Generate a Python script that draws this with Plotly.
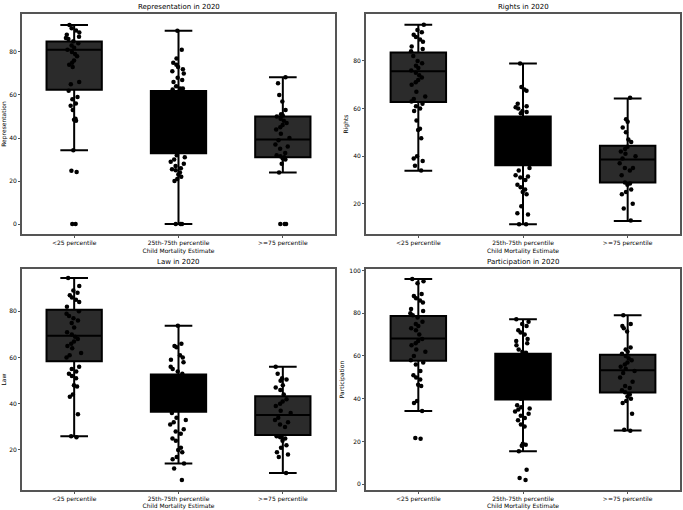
import plotly.graph_objects as go

categories = ["<25 percentile", "25th-75th percentile", ">=75 percentile"]
panel_titles = ["Representation in 2020", "Rights in 2020", "Law in 2020", "Participation in 2020"]
y_titles = ["Representation", "Rights", "Law", "Participation"]
x_title = "Child Mortality Estimate"

# Box statistics per panel: [q1, median, q3, lower whisker, upper whisker] per category
rep_stats = [[62.4, 81.0, 84.9, 34.3, 92.5], [32.9, 45.0, 61.8, 0.0, 89.8], [31.0, 39.3, 50.0, 24.0, 68.2]]
rig_stats = [[62.7, 75.6, 83.5, 33.9, 95.2], [36.2, 46.0, 56.7, 11.4, 78.9], [29.0, 38.6, 44.4, 12.8, 64.2]]
law_stats = [[58.4, 69.4, 80.7, 26.0, 94.4], [36.5, 44.0, 52.7, 14.2, 73.8], [26.5, 35.1, 43.3, 10.0, 56.0]]
par_stats = [[57.8, 68.2, 78.7, 34.3, 96.0], [39.6, 50.0, 61.0, 15.5, 77.2], [42.9, 53.3, 60.6, 25.2, 79.0]]

# Strip points per panel and category
rep_low = [92.5, 91, 90, 89, 88, 87, 86.5, 86, 85, 84, 83, 82, 81, 80, 79, 78, 76, 75, 74, 73, 66, 65,
           62, 59, 58, 56, 55, 53, 49, 48.5, 48, 34.3, 24.8, 24.2, 0, 0]
rep_mid = [89.8, 81, 77, 75, 74, 73, 72, 71, 70, 68, 67, 66, 64, 63, 63, 62.5, 62, 60, 57, 55, 52, 50,
           48, 46, 44, 42, 40, 38, 36, 34, 32, 31, 30, 29, 28, 27, 26, 25.5, 25, 24, 23, 22, 21, 20, 0, 0, 0]
rep_high = [68.2, 65.5, 60, 57, 53, 51, 50.5, 50, 49, 48, 47, 46, 45, 44, 42, 40, 39, 37, 36, 35, 33,
            32, 31.5, 31, 30.5, 30, 28, 24, 0, 0, 0]

rig_low = [95.2, 93, 92, 91, 90, 89, 88, 86, 85, 84, 82, 80, 79, 78, 77, 76, 75, 74, 73, 72, 71, 70,
           67, 65, 64, 63, 62, 61, 60, 59, 55, 51.5, 51, 47.5, 40, 39, 38, 36, 34]
rig_mid = [78.9, 69, 68, 67.5, 62, 61, 60.5, 60, 59, 58.5, 58, 55, 52, 50, 48, 46, 44, 42, 40, 38, 35,
           34, 32, 31.5, 31, 30, 28, 27, 26, 25, 24, 19, 16, 15.5, 11.4, 11.4]
rig_high = [64.5, 55.5, 54.5, 52, 50, 47, 46, 44, 43, 42, 41, 40, 39, 37, 35, 35, 34, 32, 29, 28.5,
            28, 26, 25, 24, 20, 18, 13]

law_low = [94.4, 91, 89, 88, 87, 86, 85, 84, 82, 80, 79, 78, 77, 76, 75, 73, 71, 70, 69, 68, 67, 66,
           65, 64, 62, 61, 60, 56, 55, 54, 53, 52, 51, 48, 47.5, 44, 43, 35.5, 26, 25.5]
law_mid = [73.8, 66, 65, 64.5, 61, 60, 59, 58, 56, 55, 54, 53, 52, 50, 48, 46, 44, 42, 40, 38, 36, 34,
           33, 32, 31, 29, 28, 27, 25, 24, 21, 20, 19, 17, 16, 14.2, 12, 7]
law_high = [56, 53, 51, 50.5, 50, 48, 47, 46, 44, 42, 41, 40, 39, 37, 36, 34, 33, 32, 31, 30, 26,
            25.5, 25, 24, 22, 21, 19, 18, 17, 10]

par_low = [96, 95, 94, 89, 88, 87, 86, 85, 82, 81, 80, 79, 78, 76, 75, 74, 73, 72, 70, 68, 67, 66, 65,
           63, 62, 60, 58, 57, 56, 53, 51, 50, 49, 46.5, 46, 39, 38, 34.3, 21.7, 21.3]
par_mid = [77.2, 76, 75, 74, 72, 71, 70, 68, 67, 66, 65, 63, 62, 61.5, 58, 55, 52, 50, 48, 45, 42, 40,
           37, 36, 35.5, 35, 34, 33, 32, 31, 30, 28, 27, 19, 18.5, 18, 15.5, 6.8, 3, 2]
par_high = [79, 75, 74, 73, 71.5, 64, 63, 62, 61, 60, 59, 58, 57, 56, 55, 54, 53, 52, 50, 48, 46, 45,
            44, 43, 42, 41, 40, 39, 38, 33, 25.5, 25]

y_ranges = [[-4.65, 97.65], [7.3, 99.7], [2.65, 98.35], [-2.7, 100.7]]
y_ticks = [[0, 20, 40, 60, 80], [20, 40, 60, 80], [20, 40, 60, 80], [0, 20, 40, 60, 80, 100]]

stats_all = [rep_stats, rig_stats, law_stats, par_stats]
points_all = [[rep_low, rep_mid, rep_high], [rig_low, rig_mid, rig_high],
              [law_low, law_mid, law_high], [par_low, par_mid, par_high]]
box_fills = ["#2b2b2b", "#000000", "#2b2b2b"]

W, H = 683, 510
# plot-area pixel boxes (left, top, right, bottom)
areas = [(22, 12, 335, 233), (366, 12, 680, 233), (22, 268, 335, 490), (366, 268, 680, 490)]

fig = go.Figure()
font = "DejaVu Sans"
annotations = []
for p in range(4):
    l, t, r, b = areas[p]
    xa = "x" if p == 0 else f"x{p+1}"
    ya = "y" if p == 0 else f"y{p+1}"
    for c in range(3):
        q1, med, q3, lf, uf = stats_all[p][c]
        fig.add_trace(go.Box(
            x=[categories[c]], q1=[q1], median=[med], q3=[q3], lowerfence=[lf], upperfence=[uf],
            fillcolor=box_fills[c], line=dict(color="#000000", width=2), width=0.53,
            whiskerwidth=0.5, boxpoints=False, xaxis=xa, yaxis=ya, showlegend=False, hoverinfo="skip"))
    for c in range(3):
        vals = points_all[p][c]
        fig.add_trace(go.Box(
            x=[categories[c]] * len(vals), y=vals, boxpoints="all", jitter=0.32, pointpos=0,
            fillcolor="rgba(0,0,0,0)", line=dict(color="rgba(0,0,0,0)", width=0), width=0.53,
            marker=dict(color="#000000", size=4.5), xaxis=xa, yaxis=ya, showlegend=False,
            hoverinfo="skip"))
    xkey = "xaxis" if p == 0 else f"xaxis{p+1}"
    ykey = "yaxis" if p == 0 else f"yaxis{p+1}"
    fig.update_layout(**{
        xkey: dict(domain=[l / W, r / W], anchor=ya, type="category", categoryorder="array",
                   categoryarray=categories, range=[-0.5, 2.5], showgrid=False, zeroline=False,
                   showline=True, mirror=True, linecolor="#555555", linewidth=2,
                   ticks="outside", ticklen=2, tickwidth=1, tickcolor="#555555",
                   tickfont=dict(family=font, size=6, color="#000000"),
                   title=dict(text=x_title, font=dict(family=font, size=6, color="#000000"), standoff=0)),
        ykey: dict(domain=[1 - b / H, 1 - t / H], anchor=xa, range=y_ranges[p], tickvals=y_ticks[p],
                   showgrid=False, zeroline=False, showline=True, mirror=True,
                   linecolor="#555555", linewidth=2, ticks="outside", ticklen=2, tickwidth=1,
                   tickcolor="#555555", tickfont=dict(family=font, size=6, color="#000000"),
                   title=dict(text=y_titles[p], font=dict(family=font, size=6, color="#000000"), standoff=4)),
    })
    annotations.append(dict(text=panel_titles[p], x=(l + r) / 2 / W, y=1 - (t - 7) / H,
                            xref="paper", yref="paper", showarrow=False, xanchor="center",
                            yanchor="middle", font=dict(family=font, size=7, color="#000000")))

fig.update_layout(width=W, height=H, margin=dict(l=0, r=0, t=0, b=0), plot_bgcolor="white",
                  paper_bgcolor="white", boxmode="overlay", annotations=annotations)
fig.write_html("out.html")
